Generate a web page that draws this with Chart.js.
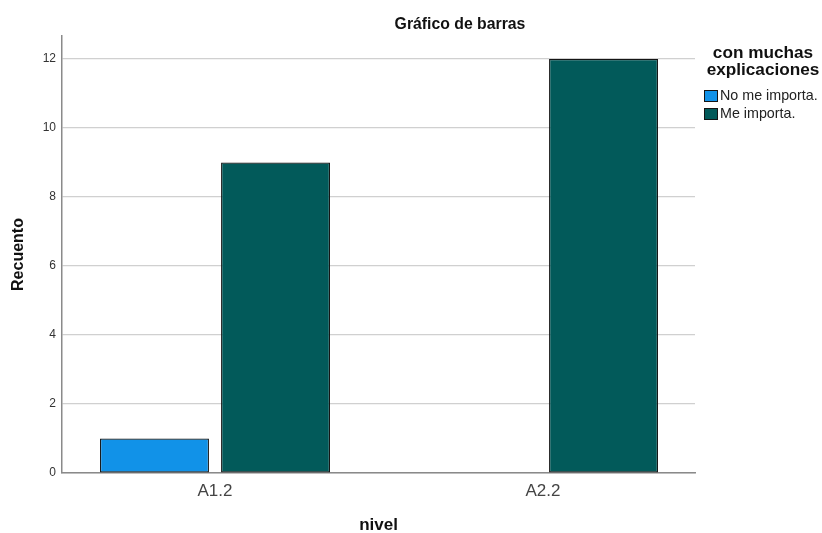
<!DOCTYPE html>
<html>
<head>
<meta charset="utf-8">
<script src="https://cdn.jsdelivr.net/npm/chart.js@4.4.1/dist/chart.umd.min.js"></script>
<style>
  html,body{margin:0;padding:0;background:#fff;}
  #wrap{width:822px;height:533px;}
</style>
</head>
<body>
<div id="wrap"><canvas id="barChart"></canvas></div>
<script>
// ==================== Data ====================
const categories = ["A1.2", "A2.2"];
const seriesNames = ["No me importa.", "Me importa."];
const noMeImporta = [1, 0];
const meImporta = [9, 12];
const yTicks = [0, 2, 4, 6, 8, 10, 12];

const chartTitle = "Gráfico de barras";
const legendTitle = ["con muchas", "explicaciones"];

const FONT = "'Liberation Sans', Arial, sans-serif";

// ==================== Plugins ====================
// chart title, placed a little right of the plot centre
const titlePlugin = {
  id: "spssTitle",
  afterDraw(chart){
    const ctx = chart.ctx;
    ctx.save();
    ctx.font = "bold 15.8px " + FONT;
    ctx.fillStyle = "#111";
    ctx.textAlign = "center";
    ctx.textBaseline = "middle";
    ctx.fillText(chartTitle, 460, 25);
    ctx.restore();
  }
};

// legend at the right, built from the datasets
const legendPlugin = {
  id: "spssLegend",
  afterDraw(chart){
    const ctx = chart.ctx;
    const x0 = chart.chartArea.right + 9;
    ctx.save();
    ctx.font = "bold 17.2px " + FONT;
    ctx.fillStyle = "#111";
    ctx.textAlign = "center";
    ctx.textBaseline = "middle";
    legendTitle.forEach((t, i) => ctx.fillText(t, 763, 53 + i * 17.5));

    ctx.font = "14.3px " + FONT;
    ctx.textAlign = "left";
    chart.data.datasets.forEach((ds, i) => {
      const y = 96 + i * 18;
      ctx.fillStyle = ds.backgroundColor;
      ctx.fillRect(x0, y - 6, 14, 12);
      ctx.strokeStyle = ds.borderColor;
      ctx.lineWidth = 1;
      ctx.strokeRect(x0 + 0.5, y - 5.5, 13, 11);
      ctx.fillStyle = "#222";
      ctx.fillText(ds.label, x0 + 16, y);
    });
    ctx.restore();
  }
};

// ==================== Chart ====================
const toPoints = arr => arr.map((v, i) => ({ x: i, y: v }));

new Chart(document.getElementById("barChart"), {
  type: "bar",
  data: {
    datasets: [
      {
        label: seriesNames[0],
        data: toPoints(noMeImporta),
        backgroundColor: "#1192e8",
        borderColor: "#141414"
      },
      {
        label: seriesNames[1],
        data: toPoints(meImporta),
        backgroundColor: "#025a5a",
        borderColor: "#141414"
      }
    ]
  },
  options: {
    responsive: true,
    maintainAspectRatio: false,
    animation: false,
    layout: { padding: { top: 36, right: 127, left: 0, bottom: 0 } },
    datasets: {
      bar: {
        categoryPercentage: 0.738,
        barPercentage: 0.9,
        borderSkipped: false,
        borderWidth: c => (c.raw && c.raw.y === 0 ? 0 : 1.2)
      }
    },
    plugins: {
      legend: { display: false },
      tooltip: { enabled: false },
      title: { display: false }
    },
    scales: {
      x: {
        type: "linear",
        offset: false,
        min: -0.4665,
        max: 1.4634,
        afterBuildTicks: s => { s.ticks = categories.map((c, i) => ({ value: i })); },
        afterFit: s => { s.height = 60; },
        grid: { display: false, drawTicks: false },
        border: { color: "#8a8a8a", width: 1.5 },
        ticks: {
          autoSkip: false,
          maxRotation: 0,
          padding: 8,
          color: "#444",
          font: { family: FONT, size: 17 },
          callback: (v, i) => categories[i]
        },
        title: {
          display: true,
          text: "nivel",
          color: "#111",
          font: { family: FONT, size: 17, weight: "bold", lineHeight: 0.85 },
          padding: { top: 0, bottom: 0 }
        }
      },
      y: {
        min: 0,
        max: 12.667,
        afterBuildTicks: s => { s.ticks = yTicks.map(v => ({ value: v })); },
        afterFit: s => { s.width = 62; },
        grid: { color: "#d0d0d0", lineWidth: 1.2, drawTicks: false },
        border: { color: "#8a8a8a", width: 1.5 },
        ticks: {
          padding: 6,
          color: "#333",
          font: { family: FONT, size: 12 }
        },
        title: {
          display: true,
          text: "Recuento",
          color: "#111",
          font: { family: FONT, size: 16, weight: "bold" },
          padding: { top: 9, bottom: 0 }
        }
      }
    }
  },
  plugins: [titlePlugin, legendPlugin]
});
</script>
</body>
</html>
